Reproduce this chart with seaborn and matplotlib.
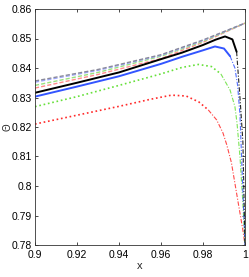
import matplotlib
matplotlib.use("Agg")
import matplotlib.pyplot as plt
import pandas as pd
import seaborn as sns

# Reference (dashed) curves
x_ref = [0.90, 0.93, 0.96, 0.98, 1.00]
y_ref_gray = [0.8356, 0.8395, 0.8445, 0.8495, 0.8552]
y_ref_blue = [0.8352, 0.8392, 0.8443, 0.8493, 0.8552]
y_ref_green = [0.8341, 0.8385, 0.8440, 0.8490, 0.8552]
y_ref_red = [0.8332, 0.8378, 0.8432, 0.8487, 0.8552]

# Main curves (rising part, then steep drop)
x_black = [0.90, 0.92, 0.94, 0.96, 0.97, 0.98, 0.986, 0.9905, 0.994, 0.996, 0.9976, 0.9990, 1.0]
y_black = [0.8316, 0.8350, 0.8385, 0.8430, 0.8452, 0.8478, 0.8496, 0.8507, 0.8497, 0.8455, 0.8300, 0.8150, 0.7800]
split_black = 9

x_blue = [0.90, 0.92, 0.94, 0.96, 0.97, 0.98, 0.9857, 0.990, 0.9929, 0.9952, 0.9965, 0.9976, 0.9989, 1.0]
y_blue = [0.8303, 0.8337, 0.8372, 0.8414, 0.8438, 0.8460, 0.8473, 0.8466, 0.8440, 0.8400, 0.8340, 0.8241, 0.8000, 0.7800]
split_blue = 8

x_green = [0.90, 0.92, 0.94, 0.96, 0.97, 0.9778, 0.984, 0.9885, 0.9929, 0.9952, 0.9962, 0.9976, 0.9989, 1.0]
y_green = [0.8269, 0.8303, 0.8341, 0.8380, 0.8402, 0.8412, 0.8405, 0.8380, 0.8325, 0.8269, 0.8213, 0.8100, 0.7953, 0.7800]
split_green = 7

x_red = [0.90, 0.92, 0.94, 0.955, 0.965, 0.972, 0.978, 0.9825, 0.9865, 0.9895, 0.9913, 0.9935, 0.9952, 0.9966, 0.9979, 0.9990, 1.0]
y_red = [0.8210, 0.8240, 0.8270, 0.8294, 0.8308, 0.8305, 0.8285, 0.8258, 0.8224, 0.8180, 0.8140, 0.8080, 0.8009, 0.7950, 0.7896, 0.7850, 0.7800]
split_red = 7

x_ticks = [0.9, 0.92, 0.94, 0.96, 0.98, 1.0]
x_ticklabels = ["0.9", "0.92", "0.94", "0.96", "0.98", "1"]
y_ticks = [0.78, 0.79, 0.80, 0.81, 0.82, 0.83, 0.84, 0.85, 0.86]
y_ticklabels = ["0.78", "0.79", "0.8", "0.81", "0.82", "0.83", "0.84", "0.85", "0.86"]

sns.set_style("ticks")
plt.rcParams["font.family"] = ["Liberation Sans Narrow", "Liberation Sans", "DejaVu Sans"]

fig = plt.figure(figsize=(2.49, 2.77), dpi=100)
ax = fig.add_axes([35 / 249, 32 / 277, 210 / 249, 236 / 277])

# dashed reference lines
for ys, col in [(y_ref_red, "#ff8c8c"), (y_ref_green, "#9be27f"),
                (y_ref_blue, "#9fa8ff"), (y_ref_gray, "#8a8a9a")]:
    df = pd.DataFrame({"x": x_ref, "y": ys})
    sns.lineplot(data=df, x="x", y="y", ax=ax, color=col, lw=1.0,
                 linestyle=(0, (3, 1.5)), sort=False)

curves = [
    (x_red, y_red, split_red, "#ff2a2a", ":", 1.2),
    (x_green, y_green, split_green, "#66e03a", ":", 1.2),
    (x_blue, y_blue, split_blue, "#3355ff", "-", 1.4),
    (x_black, y_black, split_black, "black", "-", 1.4),
]
for xs, ys, k, col, ls, lw in curves:
    df_up = pd.DataFrame({"x": xs[:k + 1], "y": ys[:k + 1]})
    df_dn = pd.DataFrame({"x": xs[k:], "y": ys[k:]})
    sns.lineplot(data=df_up, x="x", y="y", ax=ax, color=col, lw=lw,
                 linestyle=ls, sort=False)
    sns.lineplot(data=df_dn, x="x", y="y", ax=ax, color=col, lw=0.8,
                 linestyle=(0, (4, 1.5, 1, 1.5)), sort=False, alpha=0.85)

ax.set_xlim(0.9, 1.0)
ax.set_ylim(0.78, 0.86)
ax.set_xticks(x_ticks)
ax.set_xticklabels(x_ticklabels)
ax.set_yticks(y_ticks)
ax.set_yticklabels(y_ticklabels)
ax.tick_params(direction="in", length=2.5, width=0.5, labelsize=7.5,
               top=True, right=True, pad=2, colors="black")
ax.tick_params(axis="x", pad=3.5)
for s in ax.spines.values():
    s.set_linewidth(0.6)
    s.set_color("#333333")
    s.set_visible(True)

ax.set_xlabel("x", fontsize=8, labelpad=1)
ax.set_ylabel("Θ", fontsize=7, rotation=90)
ax.yaxis.set_label_coords(-0.105, 0.5)

fig.savefig("out.png", dpi=100)
